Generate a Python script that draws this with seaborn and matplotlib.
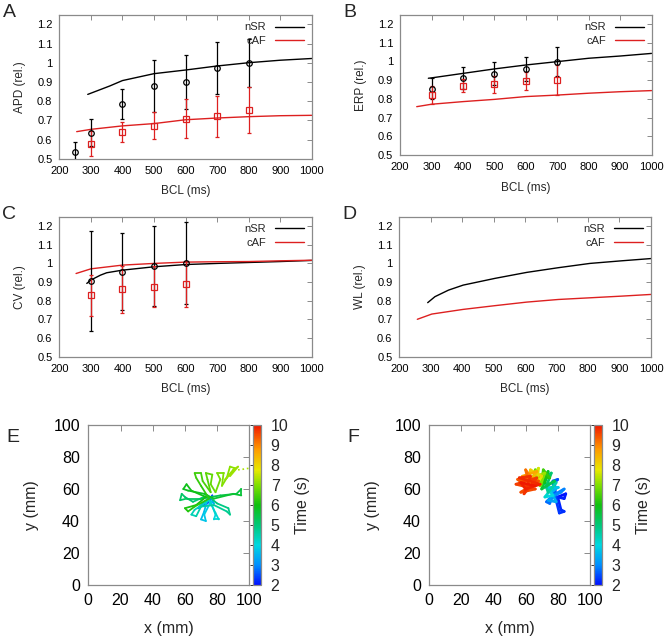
import numpy as np
import pandas as pd
import matplotlib
matplotlib.use("Agg")
import matplotlib.pyplot as plt
from matplotlib.collections import LineCollection
from matplotlib.colors import LinearSegmentedColormap, Normalize
from matplotlib.ticker import FuncFormatter
import seaborn as sns

# ---------------- data ----------------
# Panel A (APD)
A_nsr_bcl = [290, 360, 400, 500, 600, 700, 800, 900, 1000]
A_nsr_val = [0.835, 0.879, 0.907, 0.943, 0.962, 0.983, 1.0, 1.013, 1.022]
A_caf_bcl = [255, 300, 400, 500, 600, 700, 800, 900, 1000]
A_caf_val = [0.641, 0.653, 0.671, 0.683, 0.703, 0.712, 0.719, 0.724, 0.726]
A_exp_nsr_x = [250, 300, 400, 500, 600, 700, 800]
A_exp_nsr_y = [0.535, 0.635, 0.785, 0.877, 0.900, 0.972, 1.0]
A_exp_nsr_e = [0.05, 0.07, 0.077, 0.135, 0.14, 0.135, 0.125]
A_exp_caf_x = [300, 400, 500, 600, 700, 800]
A_exp_caf_y = [0.578, 0.637, 0.672, 0.708, 0.72, 0.753]
A_exp_caf_e = [0.065, 0.052, 0.07, 0.102, 0.105, 0.12]

# Panel B (ERP)
B_nsr_bcl = [290, 300, 400, 500, 600, 700, 800, 900, 1000]
B_nsr_val = [0.910, 0.912, 0.936, 0.96, 0.981, 0.999, 1.017, 1.029, 1.043]
B_caf_bcl = [253, 300, 400, 500, 600, 700, 800, 900, 1000]
B_caf_val = [0.758, 0.771, 0.785, 0.797, 0.812, 0.82, 0.83, 0.838, 0.844]
B_exp_x = [300, 400, 500, 600, 700]
B_exp_nsr_y = [0.855, 0.91, 0.935, 0.96, 0.998]
B_exp_nsr_e = [0.055, 0.058, 0.06, 0.065, 0.077]
B_exp_caf_y = [0.82, 0.87, 0.878, 0.895, 0.90]
B_exp_caf_e = [0.05, 0.035, 0.045, 0.047, 0.082]

# Panel C (CV)
C_nsr_bcl = [287, 300, 330, 350, 400, 500, 600, 700, 800, 900, 1000]
C_nsr_val = [0.892, 0.91, 0.936, 0.949, 0.963, 0.981, 0.993, 0.999, 1.004, 1.009, 1.015]
C_caf_bcl = [253, 300, 400, 500, 600, 700, 800, 900, 1000]
C_caf_val = [0.945, 0.97, 0.99, 0.999, 1.006, 1.008, 1.009, 1.013, 1.016]
C_exp_x = [300, 400, 500, 600]
C_exp_nsr_y = [0.905, 0.955, 0.985, 1.0]
C_exp_nsr_e = [0.265, 0.205, 0.215, 0.218]
C_exp_caf_y = [0.828, 0.86, 0.875, 0.89]
C_exp_caf_e = [0.108, 0.125, 0.11, 0.122]

# Panel D (WL)
D_nsr_bcl = [290, 313, 356, 403, 504, 605, 705, 806, 907, 1000]
D_nsr_val = [0.789, 0.821, 0.856, 0.883, 0.919, 0.951, 0.976, 0.999, 1.013, 1.025]
D_caf_bcl = [257, 303, 403, 504, 605, 705, 806, 907, 1000]
D_caf_val = [0.70, 0.728, 0.753, 0.773, 0.792, 0.806, 0.815, 0.824, 0.833]

# Panel E trajectory (x mm, y mm, time s)
E_x = [75, 77, 74, 68, 72, 76, 78, 74,
       72, 70, 73, 72, 76, 79, 78, 81, 79, 75, 66, 64, 67, 70, 78, 86, 88, 87, 80,
       74, 65, 60, 58, 57, 61, 70, 82, 92, 95, 95, 90, 78, 72, 62, 59, 61, 64, 73, 67, 60, 62, 66, 75,
       70, 67, 66, 70, 71, 76, 74, 73, 77, 76, 79, 82, 80, 84, 83, 86, 88, 91, 89, 85, 90, 93, 88]
E_y = [53, 56, 51, 48, 52, 55, 51, 54,
       46, 41, 40, 44, 52, 44, 41, 41, 45, 53, 47, 44, 43, 49, 50, 46, 44, 48, 51,
       56, 52, 55, 57, 53, 54, 54, 56, 57, 60, 56, 57, 54, 57, 59, 60, 63, 59, 55, 50, 48, 46, 49, 54,
       62, 67, 70, 70, 65, 58, 66, 70, 69, 63, 58, 66, 70, 70, 62, 67, 74, 73, 70, 66, 72, 74, 68]
E_t = [2.2, 2.4, 2.6, 2.8, 3.0, 3.2, 3.4, 3.5,
       3.6, 3.7, 3.75, 3.8, 3.9, 4.0, 4.05, 4.1, 4.15, 4.25, 4.35, 4.4, 4.45, 4.55, 4.65, 4.75, 4.8, 4.85, 4.95,
       5.0, 5.05, 5.1, 5.15, 5.2, 5.25, 5.3, 5.4, 5.5, 5.55, 5.6, 5.65, 5.7, 5.75, 5.8, 5.85, 5.9, 5.95,
       6.0, 6.05, 6.1, 6.15, 6.2, 6.25,
       6.3, 6.35, 6.4, 6.45, 6.5, 6.55, 6.6, 6.65, 6.7, 6.75, 6.8, 6.85, 6.9, 6.95, 7.0, 7.03, 7.06, 7.09,
       7.12, 7.15, 7.18, 7.2, 7.22]
E_trail_x = [93, 95.5, 98, 100]
E_trail_y = [72, 72.3, 72.7, 73]
E_trail_t = [7.3, 7.3, 7.3, 7.3]

# Panel F trajectory
F_x = [80, 85, 84, 80, 82, 84, 81, 79, 78, 80, 77, 78, 73, 75, 77, 84, 82, 78,
       74, 79, 76, 80, 73, 77, 72, 76, 79,
       74, 71, 76, 73, 78, 70, 74, 72, 69, 75, 71, 70,
       66, 69, 72, 64, 68, 67, 70,
       63, 61, 67, 58, 66, 60, 63,
       55, 68, 57, 66, 54, 67, 59, 63, 56, 69, 60, 57, 66]
F_y = [55, 57, 54, 55, 47, 46, 45, 53, 64, 66, 65, 57, 52, 51, 56, 60, 58, 56,
       53, 52, 58, 61, 61, 56, 55, 60, 64,
       58, 67, 70, 62, 65, 60, 71, 64, 68, 67, 72, 63,
       72, 62, 70, 67, 73, 63, 68,
       72, 62, 71, 68, 63, 72, 60,
       66, 65, 58, 60, 63, 67, 57, 68, 67, 63, 60, 64, 62]
F_t = [2.0, 2.05, 2.1, 2.15, 2.2, 2.25, 2.3, 2.35, 2.45, 2.5, 2.55, 2.6, 2.7, 2.75, 2.8, 2.9, 2.95, 3.0,
       3.2, 3.35, 3.5, 3.65, 3.8, 3.95, 4.1, 4.25, 4.4,
       4.6, 4.8, 5.0, 5.2, 5.35, 5.5, 5.7, 5.85, 6.0, 6.2, 6.4, 6.5,
       6.7, 6.9, 7.1, 7.3, 7.5, 7.7, 7.9,
       8.1, 8.3, 8.5, 8.7, 8.9, 9.1, 9.3,
       9.4, 9.45, 9.5, 9.55, 9.6, 9.65, 9.7, 9.75, 9.8, 9.85, 9.9, 9.95, 10.0]

bcl_ticks = [200, 300, 400, 500, 600, 700, 800, 900, 1000]
rel_ticks = [0.5, 0.6, 0.7, 0.8, 0.9, 1.0, 1.1, 1.2]
mm_ticks = [0, 20, 40, 60, 80, 100]
time_ticks = [2, 3, 4, 5, 6, 7, 8, 9, 10]

# ---------------- style ----------------
sns.set_theme(style="white")
plt.rcParams['font.family'] = ['Liberation Sans', 'DejaVu Sans']
RED = '#dd2020'
FRAME = '#8a8a8a'

fig = plt.figure(figsize=(6.69, 6.4), dpi=100)

fmt_g = FuncFormatter(lambda v, p: ('%g' % round(v, 3)))


def style_axes(ax, fs, pad):
    for s in ax.spines.values():
        s.set_color(FRAME)
        s.set_linewidth(0.9)
    ax.tick_params(direction='in', top=True, right=True, length=3.5, width=0.7,
                   color=FRAME, labelsize=fs, labelcolor='black', pad=pad)


def line_panel(rect, nb, nv, cb, cv, ylabel, letter, exp=None):
    ax = fig.add_axes(rect)
    sns.lineplot(x=nb, y=nv, ax=ax, color='black', lw=1.0, label='nSR')
    sns.lineplot(x=cb, y=cv, ax=ax, color=RED, lw=1.0, label='cAF')
    if exp is not None:
        for (ex, ey, ee, col, mk, ms) in exp:
            ax.errorbar(ex, ey, yerr=ee, fmt=mk, mfc='none', mec=col, ecolor=col, color=col,
                        ms=ms, mew=0.9, elinewidth=0.9, capsize=1.5, capthick=0.9, zorder=3)
    ax.set_xlim(200, 1000)
    ax.set_ylim(0.5, 1.25)
    ax.set_xticks(bcl_ticks)
    ax.set_yticks(rel_ticks)
    ax.yaxis.set_major_formatter(fmt_g)
    style_axes(ax, 8, 5)
    ax.set_xlabel('BCL (ms)', fontsize=8.5, labelpad=7)
    ax.set_ylabel(ylabel, fontsize=8.5, labelpad=8)
    ax.legend(loc='upper right', frameon=False, markerfirst=False, fontsize=8,
              handlelength=2.6, handletextpad=0.8, labelspacing=0.3,
              borderaxespad=0.3)
    fig.text(rect[0] - 0.085, rect[1] + rect[3] + 0.003, letter, fontsize=14, va='center', ha='left')
    return ax


line_panel([0.0887, 0.752, 0.3773, 0.225], A_nsr_bcl, A_nsr_val, A_caf_bcl, A_caf_val,
           'APD (rel.)', 'A',
           exp=[(A_exp_nsr_x, A_exp_nsr_y, A_exp_nsr_e, 'black', 'o', 4),
                (A_exp_caf_x, A_exp_caf_y, A_exp_caf_e, RED, 's', 4.5)])
line_panel([0.598, 0.758, 0.376, 0.219], B_nsr_bcl, B_nsr_val, B_caf_bcl, B_caf_val,
           'ERP (rel.)', 'B',
           exp=[(B_exp_x, B_exp_nsr_y, B_exp_nsr_e, 'black', 'o', 4),
                (B_exp_x, B_exp_caf_y, B_exp_caf_e, RED, 's', 4.5)])
line_panel([0.0887, 0.4427, 0.3773, 0.219], C_nsr_bcl, C_nsr_val, C_caf_bcl, C_caf_val,
           'CV (rel.)', 'C',
           exp=[(C_exp_x, C_exp_nsr_y, C_exp_nsr_e, 'black', 'o', 4),
                (C_exp_x, C_exp_caf_y, C_exp_caf_e, RED, 's', 4.5)])
line_panel([0.597, 0.4427, 0.376, 0.219], D_nsr_bcl, D_nsr_val, D_caf_bcl, D_caf_val,
           'WL (rel.)', 'D')

# ---------------- trajectory panels ----------------
cmap = LinearSegmentedColormap.from_list('gp', [
    (0.0, '#0010ff'), (0.125, '#0090ff'), (0.25, '#00d8e0'), (0.375, '#00c878'),
    (0.5, '#10c010'), (0.625, '#80e000'), (0.72, '#e8e800'), (0.85, '#ff9a00'),
    (1.0, '#f01800')])
norm = Normalize(2, 10)


def traj_panel(rect, cbrect, xs, ys, ts, letter, lw, trail=None):
    ax = fig.add_axes(rect)
    pts = np.column_stack([xs, ys])
    segs = np.stack([pts[:-1], pts[1:]], axis=1)
    tm = (np.asarray(ts[:-1]) + np.asarray(ts[1:])) / 2
    lc = LineCollection(segs, cmap=cmap, norm=norm, linewidths=lw, capstyle='round',
                        joinstyle='round')
    lc.set_array(tm)
    ax.add_collection(lc)
    if trail is not None:
        tx, ty, tt = trail
        ax.plot(tx, ty, ls=':', lw=1.2, color=cmap(norm(tt[0])))
    ax.set_xlim(0, 100)
    ax.set_ylim(0, 100)
    ax.set_xticks(mm_ticks)
    ax.set_yticks(mm_ticks)
    style_axes(ax, 11.5, 6)
    ax.tick_params(length=4)
    ax.set_xlabel('x (mm)', fontsize=11.5, labelpad=9)
    ax.set_ylabel('y (mm)', fontsize=11.5, labelpad=10)
    cax = fig.add_axes(cbrect)
    cb = fig.colorbar(plt.cm.ScalarMappable(norm=norm, cmap=cmap), cax=cax, ticks=time_ticks)
    cb.outline.set_edgecolor(FRAME)
    cb.outline.set_linewidth(0.9)
    cax.tick_params(direction='in', length=7.7, width=0.7, color='#333333', labelsize=11.5, pad=7,
                    right=True, left=False)
    cb.set_label('Time (s)', fontsize=11.5, labelpad=5)
    fig.text(rect[0] - 0.122, rect[1] + rect[3] - 0.019, letter, fontsize=14, va='center', ha='left')
    return ax


traj_panel([0.132, 0.0859, 0.2407, 0.25], [0.3786, 0.0859, 0.0115, 0.25],
           E_x, E_y, E_t, 'E', 1.3, trail=(E_trail_x, E_trail_y, E_trail_t))
traj_panel([0.6417, 0.0859, 0.240, 0.25], [0.888, 0.0859, 0.0115, 0.25],
           F_x, F_y, F_t, 'F', 2.0)

fig.savefig('out.png', dpi=100)
